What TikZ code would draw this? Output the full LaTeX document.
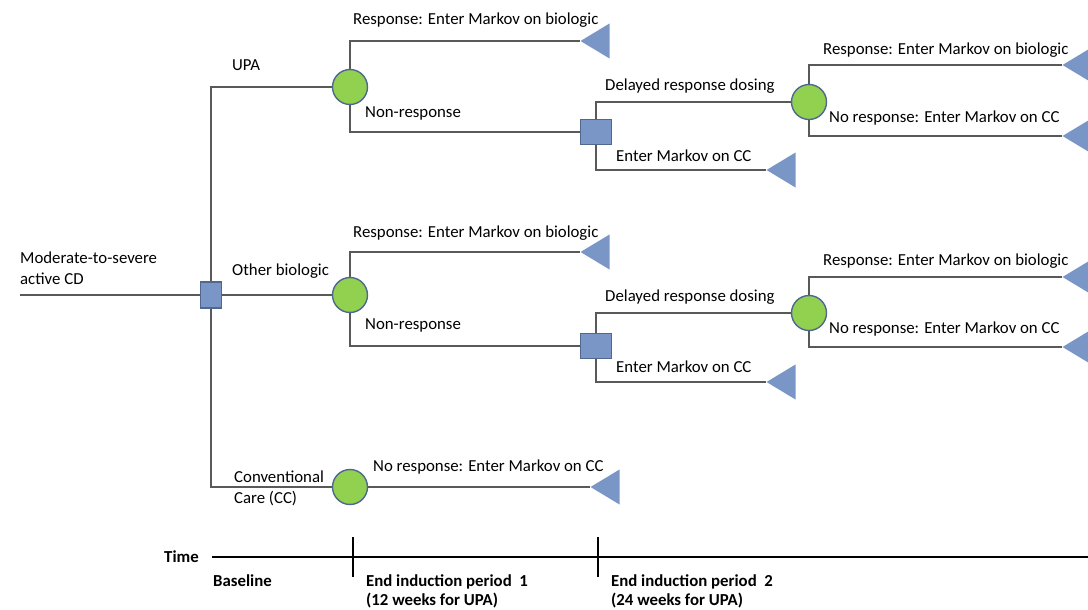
\documentclass[tikz,border=0pt]{standalone}
\usepackage{fontspec}
\setmainfont{Carlito}
\usetikzlibrary{shapes.geometric}
\definecolor{linegray}{RGB}{89,89,89}
\definecolor{chancegreen}{RGB}{146,208,80}
\definecolor{shapeblue}{RGB}{122,150,198}
\definecolor{edgeblue}{RGB}{80,104,144}
\tikzset{
  branch/.style={draw=linegray, line width=2.2pt},
  chance/.style={circle, fill=chancegreen, draw=edgeblue, line width=1.4pt, minimum size=35pt, inner sep=0pt},
  decision/.style={rectangle, fill=shapeblue, draw=edgeblue, line width=1.4pt, inner sep=0pt},
  terminal/.style={isosceles triangle, shape border rotate=180, isosceles triangle stretches,
                   minimum width=35pt, minimum height=29pt, inner sep=0pt, fill=shapeblue, anchor=apex},
  lbl/.style={anchor=west, inner sep=0pt, align=left, font=\fontsize{16.8}{21}\selectfont},
  tlbl/.style={anchor=west, inner sep=0pt, align=left, font=\fontsize{16.8}{19}\selectfont\bfseries},
}
\begin{document}
\begin{tikzpicture}[x=1pt,y=-1pt]
\useasboundingbox (0,0) rectangle (1088,610);

%% decision and chance nodes
\coordinate (root) at (20,295);
\node[decision, minimum width=21pt, minimum height=26pt] (start) at (211,295) {};
\node[chance] (upa) at (350,87) {};
\node[chance] (bio) at (350,295) {};
\node[chance] (cc) at (350,487) {};

% first induction period
\node[decision, minimum width=31pt, minimum height=25pt] (upaNR) at (596,132) {};
\node[decision, minimum width=31pt, minimum height=25pt] (bioNR) at (596,346) {};
\node[chance] (upaDR) at (809,102) {};
\node[chance] (bioDR) at (809,313) {};

%% terminal nodes (Markov entry)
\node[terminal] (upaR) at (580,41) {};
\node[terminal] (upaCC) at (766,170) {};
\node[terminal] (upaDRR) at (1062,65) {};
\node[terminal] (upaDRN) at (1062,136) {};
\node[terminal] (bioR) at (580,252) {};
\node[terminal] (bioCC) at (766,382) {};
\node[terminal] (bioDRR) at (1062,277) {};
\node[terminal] (bioDRN) at (1062,347) {};
\node[terminal] (ccN) at (590,487) {};

%% branches
\draw[branch] (root) -- (start.west);
\draw[branch] (start.north) |- (upa.west);
\draw[branch] (start.east) -- (bio.west);
\draw[branch] (start.south) |- (cc.west);

\draw[branch] (upa.north) |- (upaR.apex);
\draw[branch] (upa.south) |- (upaNR.west);
\draw[branch] (upaNR.north) |- (upaDR.west);
\draw[branch] (upaNR.south) |- (upaCC.apex);
\draw[branch] (upaDR.north) |- (upaDRR.apex);
\draw[branch] (upaDR.south) |- (upaDRN.apex);

\draw[branch] (bio.north) |- (bioR.apex);
\draw[branch] (bio.south) |- (bioNR.west);
\draw[branch] (bioNR.north) |- (bioDR.west);
\draw[branch] (bioNR.south) |- (bioCC.apex);
\draw[branch] (bioDR.north) |- (bioDRR.apex);
\draw[branch] (bioDR.south) |- (bioDRN.apex);

\draw[branch] (cc.east) -- (ccN.apex);

%% labels
\node[lbl] (lroot) at (20,268) {Moderate-to-severe\\active CD};
\node[lbl] (lupa) at (232,65) {UPA};
\node[lbl] (lbio) at (232,271) {Other biologic};
\node[lbl] (lcc) at (234,488) {Conventional\\Care (CC)};

\node[lbl] (lupaR) at (353,20) {Response: Enter Markov on biologic};
\node[lbl] (lupaNR) at (365,113) {Non-response};
\node[lbl] (lupaDR) at (605,86) {Delayed response dosing};
\node[lbl] (lupaCC) at (616,156) {Enter Markov on CC};
\node[lbl] (lupaDRR) at (823,50) {Response: Enter Markov on biologic};
\node[lbl] (lupaDRN) at (829,118) {No response: Enter Markov on CC};

\node[lbl] (lbioR) at (353,233) {Response: Enter Markov on biologic};
\node[lbl] (lbioNR) at (365,325) {Non-response};
\node[lbl] (lbioDR) at (605,297) {Delayed response dosing};
\node[lbl] (lbioCC) at (616,367) {Enter Markov on CC};
\node[lbl] (lbioDRR) at (823,261) {Response: Enter Markov on biologic};
\node[lbl] (lbioDRN) at (829,329) {No response: Enter Markov on CC};

\node[lbl] (lccN) at (373,467) {No response: Enter Markov on CC};

%% time axis
\coordinate (tstart) at (212,557);
\coordinate (tend) at (1088,557);
\coordinate (tick1a) at (353,537);
\coordinate (tick1b) at (353,577);
\coordinate (tick2a) at (598,537);
\coordinate (tick2b) at (598,577);
\draw[draw=black, line width=1.4pt] (tstart) -- (tend);
\draw[draw=black, line width=1.4pt] (tick1a) -- (tick1b);
\draw[draw=black, line width=1.4pt] (tick2a) -- (tick2b);
\node[tlbl, anchor=east] (ltime) at (199,557) {Time};
\node[tlbl] (lbase) at (213,581) {Baseline};
\node[tlbl] (lend1) at (366,591) {End induction period\ \ 1\\(12 weeks for UPA)};
\node[tlbl] (lend2) at (611,591) {End induction period\ \ 2\\(24 weeks for UPA)};

\end{tikzpicture}
\end{document}
